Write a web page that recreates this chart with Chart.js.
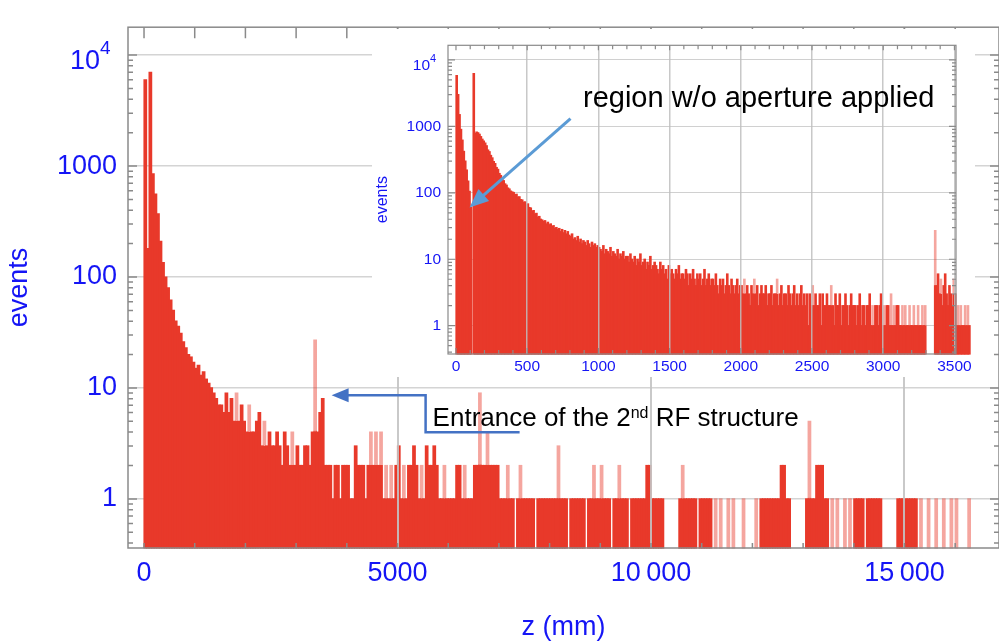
<!DOCTYPE html>
<html>
<head>
<meta charset="utf-8">
<script src="https://cdn.jsdelivr.net/npm/chart.js@4.4.1/dist/chart.umd.min.js"></script>
<style>
  html, body { margin: 0; padding: 0; background: #fff; }
  #wrap { position: relative; width: 999px; height: 644px; overflow: hidden; }
  #main { position: absolute; left: 0; top: 0; }
  #inset { position: absolute; left: 372px; top: 29px; background: #fff; }
</style>
</head>
<body>
<div id="wrap">
  <canvas id="main" width="999" height="644"></canvas>
  <canvas id="inset" width="603" height="348"></canvas>
</div>
<script>
// bin widths in mm
const MAIN_BIN = 50;
const INSET_BIN = 10;

// events per 50 mm bin, z = 0 .. 16 300 mm (one row = 1000 mm)
const mainCounts = [
  6000, 180, 7000, 850, 560, 370, 210, 135, 100, 80, 62, 50, 40, 36, 31, 26, 23, 20, 19, 17,
  15, 16, 13, 14, 12, 11, 10, 9, 8, 7, 7, 6, 9, 6, 8, 5, 9, 5, 7, 5,
  4, 7, 4, 4, 5, 6, 3, 5, 3, 4, 3, 3, 4, 3, 2, 4, 3, 2, 4, 2,
  3, 2, 2, 3, 3, 2, 4, 27, 4, 6, 8, 2, 2, 2, 1, 2, 2, 1, 2, 2,
  2, 1, 1, 3, 2, 2, 2, 1, 2, 4, 2, 4, 2, 4, 1, 2, 1, 2, 1, 2,
  3, 1, 2, 1, 2, 2, 3, 2, 1, 2, 1, 3, 2, 2, 3, 2, 1, 1, 2, 1,
  1, 1, 1, 2, 2, 1, 2, 1, 1, 1, 2, 2, 9, 2, 2, 4, 2, 2, 2, 2,
  1, 1, 1, 2, 1, 1, 0, 1, 2, 1, 1, 1, 1, 1, 0, 1, 1, 1, 1, 1,
  1, 1, 1, 3, 1, 1, 1, 0, 1, 1, 1, 1, 1, 1, 0, 1, 1, 2, 1, 1,
  2, 1, 1, 1, 0, 1, 1, 2, 1, 1, 1, 0, 1, 1, 1, 1, 1, 1, 2, 2,
  1, 1, 1, 1, 1, 0, 0, 0, 0, 0, 0, 1, 2, 1, 1, 1, 1, 1, 0, 1,
  1, 1, 1, 1, 0, 1, 0, 1, 0, 0, 1, 0, 1, 0, 0, 0, 1, 0, 0, 0,
  0, 1, 0, 1, 1, 1, 1, 1, 1, 1, 1, 2, 2, 1, 1, 0, 0, 0, 0, 0,
  0, 1, 5, 1, 1, 2, 2, 2, 1, 1, 0, 1, 0, 1, 0, 0, 1, 0, 1, 0,
  1, 1, 1, 1, 0, 1, 1, 1, 1, 1, 1, 0, 0, 0, 0, 0, 0, 1, 1, 1,
  1, 1, 1, 1, 1, 0, 1, 0, 0, 1, 0, 0, 1, 0, 0, 1, 0, 0, 1, 0,
  1, 0, 0, 0, 0, 1
];

// events per 10 mm bin, z = 0 .. 3 610 mm (one row = 200 mm)
const insetCounts = [
  5800, 3000, 1500, 900, 620, 420, 300, 220, 150, 105, 60, 0, 6200, 780, 820, 800, 760, 700, 640, 600,
  560, 510, 440, 415, 365, 335, 295, 275, 240, 225, 195, 182, 160, 152, 136, 130, 118, 114, 106, 103,
  101, 94, 95, 86, 87, 79, 78, 72, 73, 66, 68, 60, 59, 53, 54, 48, 49, 43, 44, 40,
  39, 37, 38, 34, 36, 33, 34, 31, 32, 29, 30, 28, 29, 26, 28, 25, 27, 24, 26, 23,
  22, 24, 20, 21, 19, 22, 18, 20, 17, 19, 18, 16, 19, 17, 15, 18, 16, 17, 15, 16,
  15, 14, 13, 16, 12, 14, 13, 12, 15, 11, 13, 12, 11, 14, 10, 12, 11, 13, 10, 11,
  11, 9, 12, 10, 9, 11, 8, 10, 9, 12, 8, 9, 10, 7, 9, 8, 11, 7, 8, 9,
  8, 7, 6, 9, 7, 8, 6, 7, 5, 8, 6, 7, 6, 5, 7, 6, 8, 5, 6, 6,
  5, 7, 6, 4, 6, 5, 7, 5, 4, 6, 5, 6, 4, 5, 7, 4, 5, 6, 4, 5,
  5, 4, 6, 4, 3, 5, 4, 5, 3, 4, 6, 4, 3, 5, 4, 3, 4, 5, 3, 4,
  4, 3, 5, 3, 4, 3, 2, 4, 3, 5, 3, 4, 2, 3, 4, 3, 3, 4, 2, 3,
  3, 4, 2, 3, 3, 5, 2, 3, 4, 2, 3, 3, 2, 4, 3, 2, 3, 4, 2, 3,
  2, 3, 4, 2, 3, 2, 3, 1, 3, 2, 4, 2, 3, 2, 2, 3, 1, 3, 2, 2,
  3, 2, 2, 4, 2, 1, 3, 2, 2, 3, 1, 2, 2, 3, 2, 1, 2, 3, 2, 2,
  2, 1, 2, 3, 1, 2, 2, 1, 2, 2, 3, 1, 2, 1, 2, 2, 1, 2, 3, 1,
  2, 1, 2, 2, 1, 3, 1, 2, 1, 2, 2, 1, 1, 2, 1, 2, 1, 1, 2, 1,
  1, 2, 1, 1, 2, 1, 1, 2, 1, 2, 0, 0, 0, 0, 0, 0, 27, 4, 6, 3,
  5, 2, 4, 6, 3, 2, 4, 3, 2, 5, 3, 1, 2, 1, 2, 1, 1, 2, 1, 2,
  1
];

const yTickValues = [1, 10, 100, 1000, 10000];
const mainXTicks = [0, 5000, 10000, 15000];
const insetXTicks = [0, 500, 1000, 1500, 2000, 2500, 3000, 3500];

const BLUE = '#1515f5';
const RED = '#e8392a';
const RED_LIGHT = 'rgba(232, 57, 42, 0.45)';
const FONT = "'Liberation Sans', Arial, sans-serif";

const binCenters = (counts, width) => counts.map((_, i) => (i + 0.5) * width);

// the part of a lone spike above its neighbours is drawn lighter,
// like the thin single-bin lines in the original
function barColor(c) {
  const d = c.dataset.data;
  const i = c.dataIndex;
  const v = d[i] || 0;
  const n = Math.max(d[i - 1] || 0, d[i + 1] || 0);
  const y = c.chart.scales && c.chart.scales.y;
  if (!y || !(v > 1.5 * n) || v > 100) return RED;
  const top = y.getPixelForValue(v);
  const cut = n > 0 ? y.getPixelForValue(n) : y.bottom + 1;
  const g = c.chart.ctx.createLinearGradient(0, top, 0, cut);
  g.addColorStop(0, RED_LIGHT);
  g.addColorStop(0.98, RED_LIGHT);
  g.addColorStop(1, n > 0 ? RED : RED_LIGHT);
  return g;
}

const fmtThousands = v => v >= 10000 ? String(v).replace(/(\d{3})$/, '\u2009$1') : String(v);

// frame with inward ticks and the 10^4 label
const frame = {
  id: 'frame',
  afterDraw(chart, args, o) {
    const { ctx, chartArea: a, scales: { x, y } } = chart;
    ctx.save();
    ctx.strokeStyle = '#8a8a8a';
    ctx.lineWidth = o.lineWidth;
    ctx.beginPath();
    for (let e = -1; e <= 4; e++) {
      for (let m = 1; m < 10; m++) {
        const v = m * Math.pow(10, e);
        if (v < y.min || v > y.max) continue;
        const py = y.getPixelForValue(v);
        const len = m === 1 ? o.yMajor : o.yMinor;
        ctx.moveTo(a.left, py); ctx.lineTo(a.left + len, py);
        ctx.moveTo(a.right, py); ctx.lineTo(a.right - len, py);
      }
    }
    for (let v = 0; v <= x.max; v += o.xStep) {
      const px = x.getPixelForValue(v);
      const big = v % o.xMajorStep === 0;
      ctx.moveTo(px, a.top); ctx.lineTo(px, a.top + (big ? o.topMajor : o.topMinor));
      ctx.moveTo(px, a.bottom); ctx.lineTo(px, a.bottom - (big ? o.bottomMajor : o.bottomMinor));
    }
    ctx.stroke();
    ctx.strokeRect(a.left, a.top, a.right - a.left, a.bottom - a.top);

    const py = y.getPixelForValue(10000);
    ctx.fillStyle = BLUE;
    ctx.textBaseline = 'alphabetic';
    ctx.textAlign = 'right';
    ctx.font = `${o.baseSize}px ${FONT}`;
    ctx.fillText('10', a.left - o.expGap, py + o.baseDrop);
    ctx.textAlign = 'left';
    ctx.font = `${o.expSize}px ${FONT}`;
    ctx.fillText('4', a.left - o.expGap, py + o.expDrop);
    ctx.restore();
  }
};

const entranceNote = {
  id: 'entranceNote',
  afterDraw(chart) {
    const { ctx, scales: { x, y } } = chart;
    const tx = x.getPixelForValue(3700), ty = y.getPixelForValue(8.6);
    ctx.save();
    ctx.strokeStyle = '#4472c4';
    ctx.fillStyle = '#4472c4';
    ctx.lineWidth = 2.5;
    ctx.beginPath();
    ctx.moveTo(tx + 188, ty + 37);
    ctx.lineTo(tx + 94, ty + 37);
    ctx.lineTo(tx + 94, ty);
    ctx.lineTo(tx + 12, ty);
    ctx.stroke();
    ctx.beginPath();
    ctx.moveTo(tx, ty);
    ctx.lineTo(tx + 17, ty - 7);
    ctx.lineTo(tx + 17, ty + 7);
    ctx.closePath();
    ctx.fill();

    ctx.fillStyle = '#000';
    ctx.textAlign = 'left';
    ctx.textBaseline = 'alphabetic';
    let cx = tx + 101;
    const base = ty + 31;
    ctx.font = `26px ${FONT}`;
    ctx.fillText('Entrance of the 2', cx, base);
    cx += ctx.measureText('Entrance of the 2').width;
    ctx.font = `16px ${FONT}`;
    ctx.fillText('nd', cx, base - 8);
    cx += ctx.measureText('nd').width;
    ctx.font = `26px ${FONT}`;
    ctx.fillText(' RF structure', cx, base);
    ctx.restore();
  }
};

const regionNote = {
  id: 'regionNote',
  afterDraw(chart) {
    const { ctx, scales: { x, y } } = chart;
    const tx = x.getPixelForValue(95), ty = y.getPixelForValue(60);
    const sx = tx + 101, sy = ty - 89;
    const ang = Math.atan2(ty - sy, tx - sx);
    ctx.save();
    ctx.strokeStyle = '#5b9bd5';
    ctx.fillStyle = '#5b9bd5';
    ctx.lineWidth = 3;
    ctx.beginPath();
    ctx.moveTo(sx, sy);
    ctx.lineTo(tx - 14 * Math.cos(ang), ty - 14 * Math.sin(ang));
    ctx.stroke();
    ctx.beginPath();
    ctx.moveTo(tx, ty);
    ctx.lineTo(tx - 19 * Math.cos(ang) + 8 * Math.sin(ang), ty - 19 * Math.sin(ang) - 8 * Math.cos(ang));
    ctx.lineTo(tx - 19 * Math.cos(ang) - 8 * Math.sin(ang), ty - 19 * Math.sin(ang) + 8 * Math.cos(ang));
    ctx.closePath();
    ctx.fill();
    ctx.fillStyle = '#000';
    ctx.font = `29px ${FONT}`;
    ctx.textAlign = 'left';
    ctx.textBaseline = 'alphabetic';
    ctx.fillText('region w/o aperture applied', tx + 113.5, ty - 101);
    ctx.restore();
  }
};

function histogram(counts, bin) {
  return {
    labels: binCenters(counts, bin),
    datasets: [{
      label: 'events',
      data: counts.map(v => (v > 0 ? v : null)),
      backgroundColor: barColor,
      borderWidth: 0,
      inflateAmount: 0.6,
      barPercentage: 1,
      categoryPercentage: 1,
      clip: false
    }]
  };
}

new Chart(document.getElementById('main'), {
  type: 'bar',
  data: histogram(mainCounts, MAIN_BIN),
  options: {
    responsive: false,
    animation: false,
    devicePixelRatio: 1,
    layout: { padding: { top: 7, right: 0, bottom: 0, left: 0 } },
    plugins: {
      legend: { display: false },
      tooltip: { enabled: false },
      frame: {
        lineWidth: 1.5, yMajor: 9, yMinor: 5, xStep: 1000, xMajorStep: 1000,
        topMajor: 11, topMinor: 11, bottomMajor: 5, bottomMinor: 5,
        baseSize: 27, expSize: 19, expGap: 28, baseDrop: 14, expDrop: -1
      }
    },
    scales: {
      x: {
        type: 'linear', min: -316, max: 16864, offset: false,
        afterBuildTicks: s => { s.ticks = mainXTicks.map(v => ({ value: v })); },
        afterFit: s => { s.height = 96; },
        ticks: { color: BLUE, font: { family: FONT, size: 27 }, padding: 9, maxRotation: 0, callback: fmtThousands },
        grid: { offset: false, drawTicks: false, z: 1, lineWidth: 2,
                color: c => (c.tick && c.tick.value === 0 ? 'rgba(0,0,0,0)' : 'rgba(195,195,195,0.9)') },
        border: { display: false },
        title: { display: true, text: 'z (mm)', color: BLUE, font: { family: FONT, size: 27 }, padding: { top: 0, bottom: 0 } }
      },
      y: {
        type: 'logarithmic', min: 0.361, max: 17850,
        afterBuildTicks: s => { s.ticks = yTickValues.map(v => ({ value: v })); },
        afterFit: s => { s.width = 128; },
        ticks: { color: BLUE, font: { family: FONT, size: 27 }, padding: 11, callback: v => (v === 10000 ? '' : String(v)) },
        grid: { drawTicks: false, lineWidth: 1.5, color: '#d4d4d4' },
        border: { display: false },
        title: { display: true, text: 'events', color: BLUE, font: { family: FONT, size: 27 }, padding: { top: 3, bottom: 0 } }
      }
    }
  },
  plugins: [frame, entranceNote]
});

new Chart(document.getElementById('inset'), {
  type: 'bar',
  data: histogram(insetCounts, INSET_BIN),
  options: {
    responsive: false,
    animation: false,
    devicePixelRatio: 1,
    layout: { padding: { top: 9, right: 19, bottom: 0, left: 0 } },
    plugins: {
      legend: { display: false },
      tooltip: { enabled: false },
      frame: {
        lineWidth: 1.2, yMajor: 7, yMinor: 4, xStep: 100, xMajorStep: 500,
        topMajor: 5, topMinor: 4, bottomMajor: 6, bottomMinor: 4,
        baseSize: 15.5, expSize: 11, expGap: 18, baseDrop: 10, expDrop: 2
      }
    },
    scales: {
      x: {
        type: 'linear', min: -56, max: 3511, offset: false,
        afterBuildTicks: s => { s.ticks = insetXTicks.map(v => ({ value: v })); },
        afterFit: s => { s.height = 23; },
        ticks: { color: BLUE, font: { family: FONT, size: 15.5 }, padding: 3, maxRotation: 0, callback: v => String(v) },
        grid: { offset: false, drawTicks: false, z: 1, lineWidth: 1.5,
                color: c => (c.tick && c.tick.value === 0 ? 'rgba(0,0,0,0)' : 'rgba(190,190,190,0.85)') },
        border: { display: false }
      },
      y: {
        type: 'logarithmic', min: 0.375, max: 16600,
        afterBuildTicks: s => { s.ticks = yTickValues.map(v => ({ value: v })); },
        afterFit: s => { s.width = 76; },
        ticks: { color: BLUE, font: { family: FONT, size: 15.5 }, padding: 7, callback: v => (v === 10000 ? '' : String(v)) },
        grid: { drawTicks: false, lineWidth: 1, color: '#d0d0d0' },
        border: { display: false },
        title: { display: true, text: 'events', color: BLUE, font: { family: FONT, size: 16 }, padding: { top: 1, bottom: 0 } }
      }
    }
  },
  plugins: [frame, regionNote]
});
</script>
</body>
</html>
